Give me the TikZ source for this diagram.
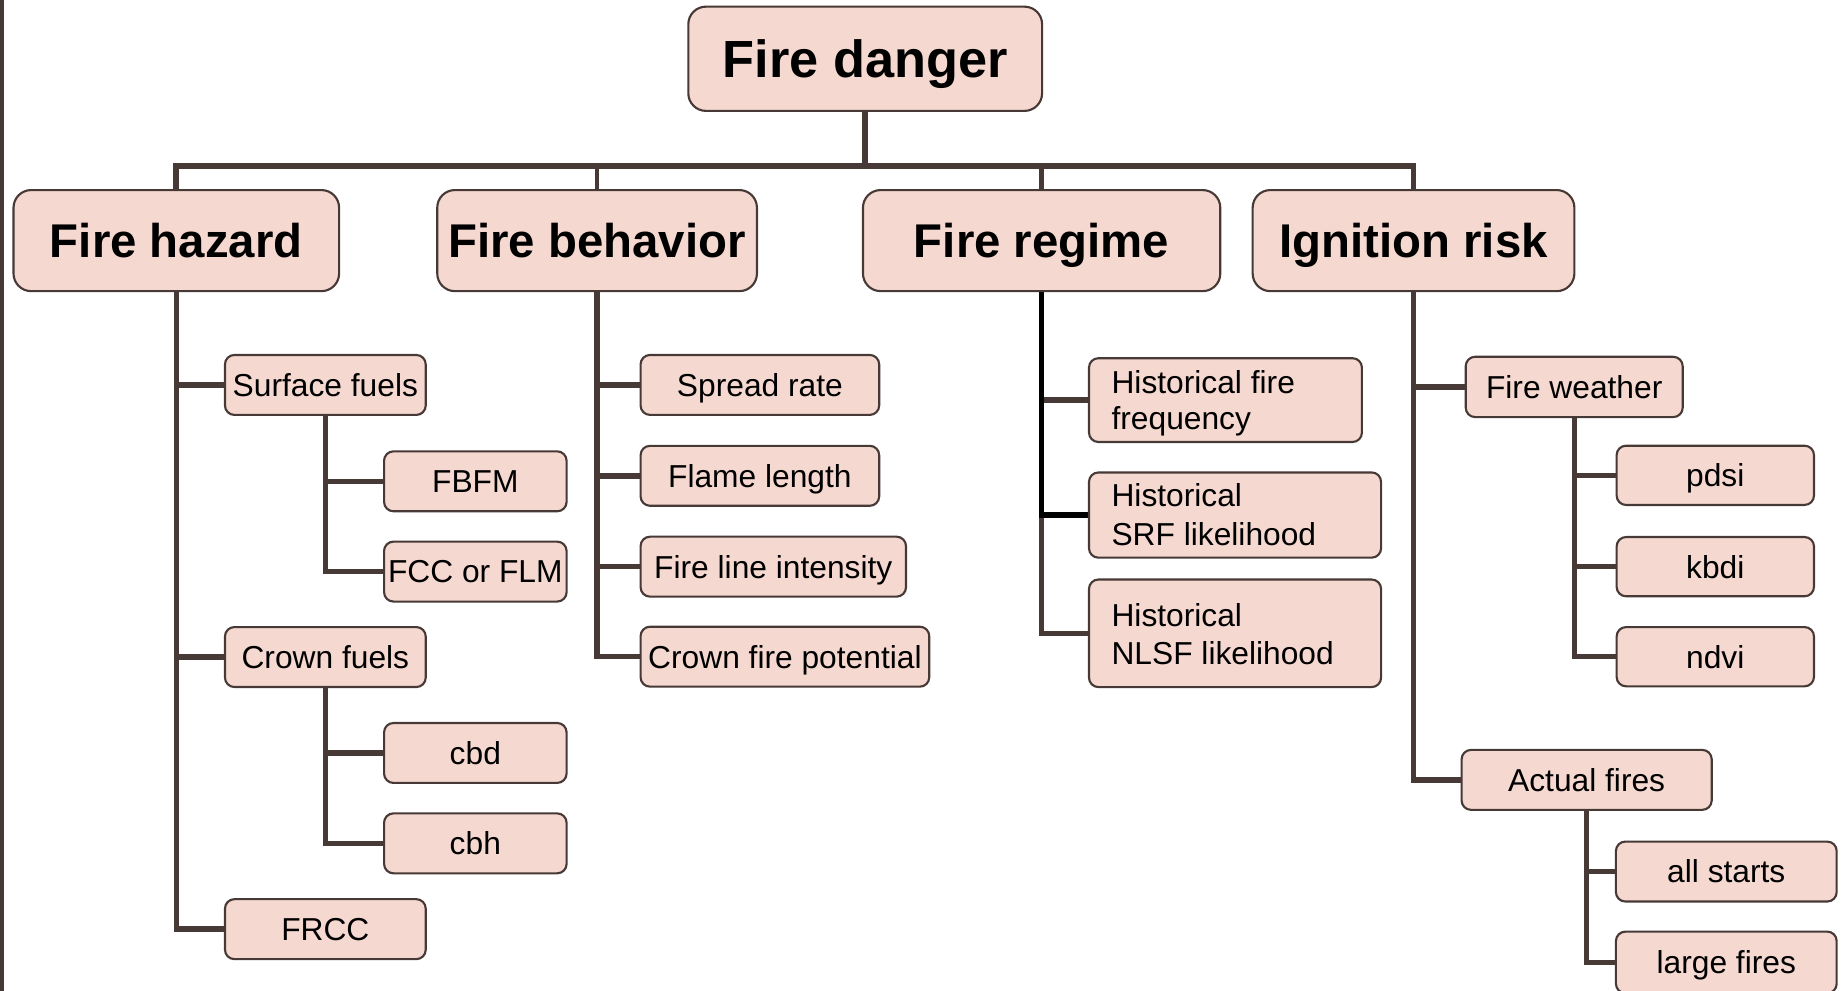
\documentclass[tikz,border=0pt]{standalone}
\usepackage{fontspec}
\setmainfont{Liberation Sans}
\usetikzlibrary{backgrounds}
\definecolor{edge}{HTML}{473936}
\definecolor{boxfill}{HTML}{F5D8CF}
\begin{document}
\begin{tikzpicture}[x=1pt,y=1pt,
  conn/.style={draw=edge, line width=4.6pt},
  leafbox/.style={draw=edge, fill=boxfill, line width=1.8pt, rounded corners=8pt,
    inner sep=0pt, text height=19.3pt, text depth=0pt, minimum height=51pt,
    font=\fontsize{27}{32}\selectfont},
  headbox/.style={leafbox, rounded corners=15pt, minimum height=86pt,
    text height=28.9pt, font=\bfseries\fontsize{40.3}{44}\selectfont},
  topbox/.style={headbox, minimum height=88.7pt, text height=31.9pt,
    font=\bfseries\fontsize{44.5}{48}\selectfont},
  rowtext/.style={anchor=base west, inner sep=0pt, font=\fontsize{27}{32}\selectfont}
]
\useasboundingbox (0,0) rectangle (1568,-843);

% frame rule on the left edge
\coordinate (ruletop) at (1.5,0);
\coordinate (rulebot) at (1.5,-843);
\draw[edge, line width=3pt] (ruletop) -- (rulebot);

% root and main categories
\node[topbox, minimum width=301pt] (fd) at (736.1,-50) {Fire danger};
\node[headbox, minimum width=277pt] (hz) at (150,-204.7) {Fire hazard};
\node[headbox, minimum width=272pt] (fb) at (508,-204.7) {Fire behavior};
\node[headbox, minimum width=304pt] (fr) at (886.2,-204.7) {Fire regime};
\node[headbox, minimum width=273.7pt] (ir) at (1202.6,-204.7) {Ignition risk};

% fire hazard
\node[leafbox, minimum width=170.8pt] (sf) at (276.8,-327.5) {Surface fuels};
\node[leafbox, minimum width=155.3pt] (fbfm) at (404.4,-409.5) {FBFM};
\node[leafbox, minimum width=155.3pt] (fcc) at (404.4,-486.3) {FCC or FLM};
\node[leafbox, minimum width=170.8pt] (cf) at (276.8,-559) {Crown fuels};
\node[leafbox, minimum width=155.3pt] (cbd) at (404.4,-640.6) {cbd};
\node[leafbox, minimum width=155.3pt] (cbh) at (404.4,-717.5) {cbh};
\node[leafbox, minimum width=170.8pt] (frcc) at (276.8,-790.5) {FRCC};

% fire behavior
\node[leafbox, minimum width=203pt] (sr) at (646.5,-327.5) {Spread rate};
\node[leafbox, minimum width=203pt] (fl) at (646.5,-404.8) {Flame length};
\node[leafbox, minimum width=225.8pt] (fli) at (657.9,-482.1) {Fire line intensity};
\node[leafbox, minimum width=245.6pt] (cfp) at (667.8,-558.7) {Crown fire potential};

% fire regime (two-line boxes)
\node[leafbox, minimum width=232.2pt, minimum height=71.3pt] (hff) at (1042.6,-340.4) {};
\node[rowtext] (hff1) at (945.5,-334.6) {Historical fire};
\node[rowtext] (hff2) at (945.5,-365.8) {frequency};
\node[leafbox, minimum width=248.5pt, minimum height=72.5pt] (srf) at (1050.75,-438.2) {};
\node[rowtext] (srf1) at (945.5,-431) {Historical};
\node[rowtext] (srf2) at (945.5,-463.7) {SRF likelihood};
\node[leafbox, minimum width=248.5pt, minimum height=91.5pt] (nlsf) at (1050.75,-538.8) {};
\node[rowtext] (nlsf1) at (945.5,-533) {Historical};
\node[rowtext] (nlsf2) at (945.5,-565.2) {NLSF likelihood};

% ignition risk
\node[leafbox, minimum width=184.6pt, minimum height=51.3pt] (fw) at (1339.3,-329.2) {Fire weather};
\node[leafbox, minimum width=167.9pt, minimum height=50.4pt] (pdsi) at (1459.35,-404.4) {pdsi};
\node[leafbox, minimum width=167.9pt, minimum height=50.4pt] (kbdi) at (1459.35,-482.1) {kbdi};
\node[leafbox, minimum width=167.9pt, minimum height=50.4pt] (ndvi) at (1459.35,-558.7) {ndvi};
\node[leafbox, minimum width=212.8pt] (af) at (1349.9,-663.5) {Actual fires};
\node[leafbox, minimum width=187.8pt] (as) at (1468.7,-741.5) {all starts};
\node[leafbox, minimum width=187.8pt, minimum height=52.4pt] (lf) at (1468.7,-818.8) {large fires};

\begin{pgfonlayer}{background}
  % root to categories
  \coordinate (bus) at (0,-141);
  \draw[conn, line width=5.2pt] (fd.south) -- (fd.south |- bus);
  \draw[conn, line width=4.8pt] (hz.north) -- (hz.north |- bus) -- (ir.north |- bus) -- (ir.north);
  \draw[conn, line width=3.8pt] (fb.north) -- (fb.north |- bus);
  \draw[conn, line width=3.8pt] (fr.north) -- (fr.north |- bus);

  % fire hazard tree
  \draw[conn] (hz.south) |- (frcc.west);
  \draw[conn] (hz.south |- sf.west) -- (sf.west);
  \draw[conn] (hz.south |- cf.west) -- (cf.west);
  \draw[conn] (sf.south) |- (fcc.west);
  \draw[conn] (sf.south |- fbfm.west) -- (fbfm.west);
  \draw[conn] (cf.south) |- (cbh.west);
  \draw[conn] (cf.south |- cbd.west) -- (cbd.west);

  % fire behavior tree
  \draw[conn] (fb.south) |- (cfp.west);
  \draw[conn] (fb.south |- sr.west) -- (sr.west);
  \draw[conn] (fb.south |- fl.west) -- (fl.west);
  \draw[conn] (fb.south |- fli.west) -- (fli.west);

  % fire regime tree
  \draw[conn] (fr.south) |- (nlsf.west);
  \draw[conn] (fr.south |- hff.west) -- (hff.west);
  \draw[conn, draw=black] (fr.south) |- (srf.west);

  % ignition risk tree
  \draw[conn] (ir.south) |- (af.west);
  \draw[conn] (ir.south |- fw.west) -- (fw.west);
  \draw[conn] (fw.south) |- (ndvi.west);
  \draw[conn] (fw.south |- pdsi.west) -- (pdsi.west);
  \draw[conn] (fw.south |- kbdi.west) -- (kbdi.west);
  \draw[conn] (af.south) |- (lf.west);
  \draw[conn] (af.south |- as.west) -- (as.west);
\end{pgfonlayer}
\end{tikzpicture}
\end{document}
